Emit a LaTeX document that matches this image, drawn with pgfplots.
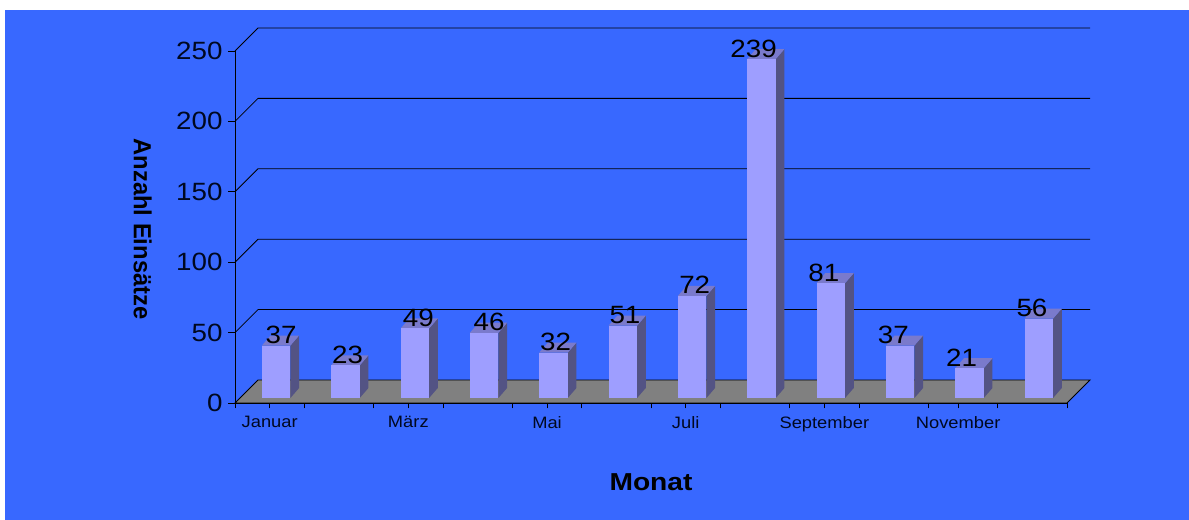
\documentclass[border=0pt]{standalone}
\usepackage{pgfplots}
\usepackage{pgfplotstable}
\usepackage{fontspec}
\pgfplotsset{compat=1.18}
\setmainfont{Liberation Sans}
\newfontfamily\widefont[FakeStretch=1.11]{Liberation Sans}
\newfontfamily\widebold[FakeStretch=1.15]{Liberation Sans Bold}
\newfontfamily\narrowbold[FakeStretch=0.96]{Liberation Sans Bold}
\newcommand\numfont{\fontsize{25bp}{27bp}\selectfont\widefont}
\newcommand\monfont{\fontsize{16.5bp}{18bp}\selectfont\widefont}
\definecolor{bgblue}{HTML}{3868FF}
\definecolor{barfront}{HTML}{9E9EFF}
\definecolor{barside}{HTML}{535384}
\definecolor{bartop}{HTML}{7A7ACC}
\definecolor{floorgray}{HTML}{808080}
\definecolor{txt}{HTML}{000820}
\pgfplotstableread{
month value labelx
1  37 1.072
2  23 2.03
3  49 3.05
4  46 4.07
5  32 5.03
6  51 6.03
7  72 7.036
8  239 7.885
9  81 8.9
10 37 9.9
11 21 10.885
12 56 11.9
}\datatable
\begin{document}
\begin{tikzpicture}[x=1bp,y=1bp]
\fill[white] (0,0) rectangle (1189,520);
\fill[bgblue] (5,0) rectangle (1189,510);
% walls, floor and axes
\begin{axis}[
  at={(235bp,117bp)}, anchor=south west,
  scale only axis, width=832bp, height=352bp,
  xmin=0, xmax=12, ymin=0, ymax=250,
  clip=false,
  axis lines*=left, axis line style={-,black,line width=0.9bp},
  tick align=outside, tick style={black,line width=0.7bp},
  major tick length=7bp,
  xtick={0,1,...,12}, xticklabels={},
  xtick style={/pgfplots/major tick length=5.5bp},
  extra x ticks={0.5,2.5,4.5,6.5,8.5,10.43},
  extra x tick labels={Januar,März,Mai,Juli,September,November},
  extra x tick style={major tick length=0pt, tick label style={font=\monfont,text=txt,yshift=-10bp}},
  ytick={0,50,100,150,200,250},
  yticklabel style={font=\numfont,text=txt,xshift=-2bp},
  /pgf/number format/assume math mode=true,
  xlabel={Monat},
  xlabel style={at={(axis description cs:0.5,-0.224)},anchor=center,
    font=\fontsize{24.5bp}{26bp}\selectfont\widebold,text=black},
  ylabel={Anzahl Einsätze},
  ylabel style={at={(axis description cs:-0.111,0.494)},anchor=center,rotate=180,
    font=\fontsize{24.7bp}{26bp}\selectfont\narrowbold,text=black},
]
\addplot[fill=floorgray,draw=black,line width=0.9bp] coordinates {(0,0) (12,0) (12.3317,16.33) (0.3317,16.33)} -- cycle;
\addplot[black,line width=0.8bp] coordinates {(0,50) (0.3317,66.33) (12.3317,66.33)};
\addplot[black,line width=0.8bp] coordinates {(0,100) (0.3317,116.33) (12.3317,116.33)};
\addplot[black,line width=0.8bp] coordinates {(0,150) (0.3317,166.33) (12.3317,166.33)};
\addplot[black,line width=0.8bp] coordinates {(0,200) (0.3317,216.33) (12.3317,216.33)};
\addplot[black,line width=0.8bp] coordinates {(0,250) (0.3317,266.33) (12.3317,266.33)};
\end{axis}
% bars
\begin{axis}[
  at={(235bp,122bp)}, anchor=south west,
  scale only axis, width=832bp, height=352bp,
  xmin=0.406, xmax=12.406, ymin=0, ymax=248.2,
  clip=false, axis lines=none,
  /pgf/number format/assume math mode=true,
]
\pgfplotsinvokeforeach{0,...,11}{
  \pgfplotstablegetelem{#1}{month}\of\datatable
  \pgfmathsetmacro\xa{\pgfplotsretval-0.2055}
  \pgfmathsetmacro\xb{\pgfplotsretval+0.2055}
  \pgfmathsetmacro\xc{\pgfplotsretval+0.2055+0.125}
  \pgfmathsetmacro\xd{\pgfplotsretval-0.2055+0.125}
  \pgfplotstablegetelem{#1}{value}\of\datatable
  \pgfmathsetmacro\yv{\pgfplotsretval}
  \pgfmathsetmacro\yb{\pgfplotsretval+7.06}
  \edef\drawfaces{%
    \noexpand\addplot[fill=barside,draw=none] coordinates {(\xb,0) (\xc,7.06) (\xc,\yb) (\xb,\yv)} -- cycle;
    \noexpand\addplot[fill=bartop,draw=none] coordinates {(\xa,\yv) (\xb,\yv) (\xc,\yb) (\xd,\yb)} -- cycle;
    \noexpand\addplot[fill=barfront,draw=none] coordinates {(\xa,0) (\xb,0) (\xb,\yv) (\xa,\yv)} -- cycle;
  }
  \drawfaces
}
\addplot[draw=none,mark=none,
  nodes near coords,
  point meta=y,
  nodes near coords style={anchor=base,inner sep=0pt,yshift=2bp,font=\numfont,text=black},
] table[x=labelx,y=value] {\datatable};
\end{axis}
\end{tikzpicture}
\end{document}
